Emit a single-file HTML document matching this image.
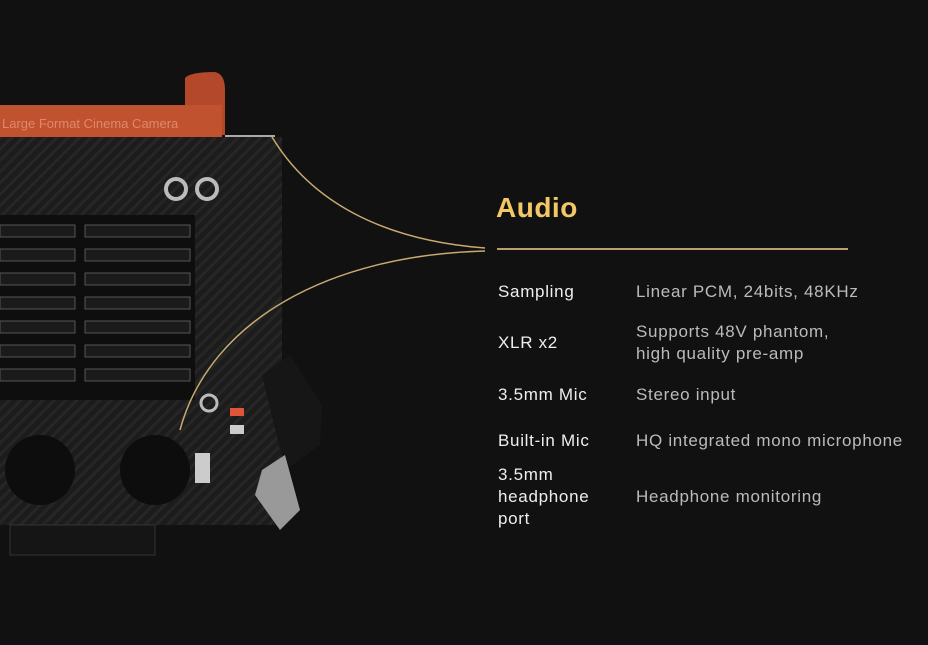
<!DOCTYPE html>
<html><head><style>
body{margin:0;width:928px;height:645px;background:#111;overflow:hidden;position:relative;font-family:"Liberation Sans",sans-serif}
.t{position:absolute;color:#eee;font-size:17px;line-height:22px;letter-spacing:0.7px}
.v{position:absolute;color:#bbb;font-size:17px;line-height:22px;letter-spacing:0.7px}
</style></head><body>
<svg width="928" height="645" style="position:absolute;left:0;top:0">
<defs>
<pattern id="cf" width="8" height="8" patternUnits="userSpaceOnUse" patternTransform="rotate(45)">
<rect width="8" height="8" fill="#1c1c1c"/><rect width="3" height="8" fill="#262626"/></pattern>
</defs>
<path d="M185 78 Q190 72 215 72 Q225 74 225 90 L225 135 L185 135 Z" fill="#b4482a"/>
<rect x="0" y="105" width="222" height="32" fill="#c0522f"/>
<text x="2" y="128" font-size="13" fill="#e08868">Large Format Cinema Camera</text>
<rect x="225" y="135" width="50" height="16" fill="#aaa"/>
<rect x="0" y="137" width="282" height="388" fill="url(#cf)"/>
<rect x="0" y="215" width="195" height="185" fill="#0e0e0e"/>
<g fill="#1b1b1b" stroke="#555" stroke-width="1">
<rect x="0" y="225" width="75" height="12"/><rect x="85" y="225" width="105" height="12"/>
<rect x="0" y="249" width="75" height="12"/><rect x="85" y="249" width="105" height="12"/>
<rect x="0" y="273" width="75" height="12"/><rect x="85" y="273" width="105" height="12"/>
<rect x="0" y="297" width="75" height="12"/><rect x="85" y="297" width="105" height="12"/>
<rect x="0" y="321" width="75" height="12"/><rect x="85" y="321" width="105" height="12"/>
<rect x="0" y="345" width="75" height="12"/><rect x="85" y="345" width="105" height="12"/>
<rect x="0" y="369" width="75" height="12"/><rect x="85" y="369" width="105" height="12"/>
</g>
<circle cx="176" cy="189" r="10" fill="none" stroke="#bbb" stroke-width="4"/>
<circle cx="207" cy="189" r="10" fill="none" stroke="#bbb" stroke-width="4"/>
<circle cx="40" cy="470" r="35" fill="#0d0d0d"/><circle cx="155" cy="470" r="35" fill="#0d0d0d"/>
<circle cx="209" cy="403" r="8" fill="none" stroke="#bbb" stroke-width="3"/>
<rect x="230" y="408" width="14" height="8" fill="#e0553a"/><rect x="230" y="425" width="14" height="9" fill="#ccc"/>
<rect x="195" y="453" width="15" height="30" fill="#ccc"/>
<path d="M262 375 L290 355 L322 405 L320 445 L285 470 Z" fill="#161616"/>
<path d="M262 470 L285 455 L300 510 L280 530 L255 495 Z" fill="#999"/>
<rect x="10" y="525" width="145" height="30" fill="#151515" stroke="#333"/>
<path d="M272 137 C310 200 380 240 485 248" stroke="#c8aa70" stroke-width="1.5" fill="none"/>
<path d="M180 430 C210 320 330 255 485 251" stroke="#c8aa70" stroke-width="1.5" fill="none"/>
<rect x="497" y="248" width="351" height="2" fill="#b89e70"/>
</svg>
<div style="position:absolute;left:496px;top:192px;color:#f2c864;font-size:28px;font-weight:bold;letter-spacing:0.5px">Audio</div>
<div class="t" style="left:498px;top:281px">Sampling</div>
<div class="v" style="left:636px;top:281px">Linear PCM, 24bits, 48KHz</div>
<div class="t" style="left:498px;top:332px">XLR x2</div>
<div class="v" style="left:636px;top:321px">Supports 48V phantom,<br>high quality pre-amp</div>
<div class="t" style="left:498px;top:384px">3.5mm Mic</div>
<div class="v" style="left:636px;top:384px">Stereo input</div>
<div class="t" style="left:498px;top:430px">Built-in Mic</div>
<div class="v" style="left:636px;top:430px">HQ integrated mono microphone</div>
<div class="t" style="left:498px;top:464px">3.5mm<br>headphone<br>port</div>
<div class="v" style="left:636px;top:486px">Headphone monitoring</div>
</body></html>
